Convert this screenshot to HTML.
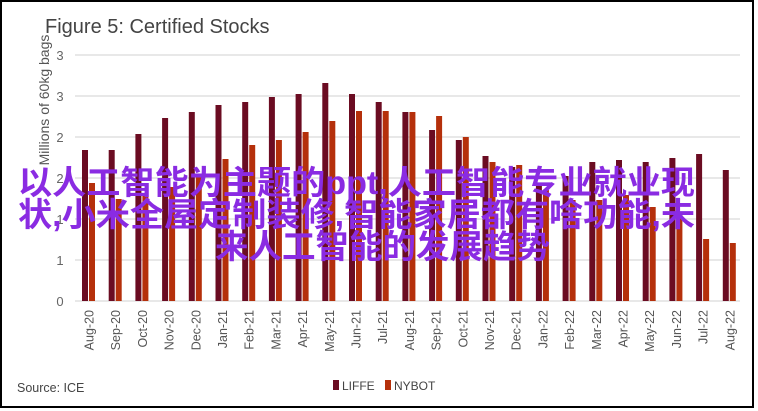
<!DOCTYPE html>
<html><head><meta charset="utf-8"><style>
body{margin:0;background:#fff;}
svg{display:block;font-family:"Liberation Sans","Noto Sans CJK SC",sans-serif;}
</style></head><body>
<svg width="758" height="411" viewBox="0 0 758 411" xmlns="http://www.w3.org/2000/svg">
<rect x="1" y="1" width="752" height="406" fill="#fff" stroke="#000" stroke-width="2"/>
<text x="45" y="33" font-size="20" fill="#444">Figure 5: Certified Stocks</text>
<text transform="translate(49,100) rotate(-90)" font-size="14" fill="#555" text-anchor="middle">Millions of 60kg bags</text>
<g stroke="#d9d9d9" stroke-width="1.3">
<line x1="75" y1="55" x2="740" y2="55"/><line x1="75" y1="96" x2="740" y2="96"/>
<line x1="75" y1="137" x2="740" y2="137"/><line x1="75" y1="178" x2="740" y2="178"/>
<line x1="75" y1="219" x2="740" y2="219"/><line x1="75" y1="260" x2="740" y2="260"/>
<line x1="75" y1="301" x2="740" y2="301"/>
</g>
<g font-size="13" fill="#666" text-anchor="middle">
<text x="60" y="60">3</text><text x="60" y="101">3</text><text x="60" y="142">2</text><text x="60" y="183">2</text><text x="60" y="224">1</text><text x="60" y="265">1</text><text x="60" y="306">0</text>
</g>
<g fill="#6b0c22">
<rect x="82.0" y="150" width="6" height="151"/>
<rect x="108.7" y="150" width="6" height="151"/>
<rect x="135.4" y="134" width="6" height="167"/>
<rect x="162.1" y="118" width="6" height="183"/>
<rect x="188.8" y="112" width="6" height="189"/>
<rect x="215.5" y="105" width="6" height="196"/>
<rect x="242.2" y="102" width="6" height="199"/>
<rect x="268.9" y="97" width="6" height="204"/>
<rect x="295.6" y="94" width="6" height="207"/>
<rect x="322.3" y="83" width="6" height="218"/>
<rect x="349.0" y="94" width="6" height="207"/>
<rect x="375.7" y="102" width="6" height="199"/>
<rect x="402.4" y="112" width="6" height="189"/>
<rect x="429.1" y="130" width="6" height="171"/>
<rect x="455.8" y="140" width="6" height="161"/>
<rect x="482.5" y="156" width="6" height="145"/>
<rect x="509.2" y="167" width="6" height="134"/>
<rect x="535.9" y="185" width="6" height="116"/>
<rect x="562.6" y="176" width="6" height="125"/>
<rect x="589.3" y="162" width="6" height="139"/>
<rect x="616.0" y="160" width="6" height="141"/>
<rect x="642.7" y="162" width="6" height="139"/>
<rect x="669.4" y="158" width="6" height="143"/>
<rect x="696.1" y="154" width="6" height="147"/>
<rect x="722.8" y="170" width="6" height="131"/>
</g>
<g fill="#b5300b">
<rect x="89.0" y="183" width="6" height="118"/>
<rect x="115.7" y="199" width="6" height="102"/>
<rect x="142.4" y="195" width="6" height="106"/>
<rect x="169.1" y="187" width="6" height="114"/>
<rect x="195.8" y="175" width="6" height="126"/>
<rect x="222.5" y="159" width="6" height="142"/>
<rect x="249.2" y="145" width="6" height="156"/>
<rect x="275.9" y="140" width="6" height="161"/>
<rect x="302.6" y="132" width="6" height="169"/>
<rect x="329.3" y="121" width="6" height="180"/>
<rect x="356.0" y="111" width="6" height="190"/>
<rect x="382.7" y="111" width="6" height="190"/>
<rect x="409.4" y="112" width="6" height="189"/>
<rect x="436.1" y="116" width="6" height="185"/>
<rect x="462.8" y="137" width="6" height="164"/>
<rect x="489.5" y="162" width="6" height="139"/>
<rect x="516.2" y="165" width="6" height="136"/>
<rect x="542.9" y="190" width="6" height="111"/>
<rect x="569.6" y="200" width="6" height="101"/>
<rect x="596.3" y="200" width="6" height="101"/>
<rect x="623.0" y="195" width="6" height="106"/>
<rect x="649.7" y="207" width="6" height="94"/>
<rect x="676.4" y="213" width="6" height="88"/>
<rect x="703.1" y="239" width="6" height="62"/>
<rect x="729.8" y="243" width="6" height="58"/>
</g>
<g font-size="12.5" fill="#555" text-anchor="end">
<text transform="translate(93.5,310) rotate(-90)">Aug-20</text>
<text transform="translate(120.2,310) rotate(-90)">Sep-20</text>
<text transform="translate(146.9,310) rotate(-90)">Oct-20</text>
<text transform="translate(173.6,310) rotate(-90)">Nov-20</text>
<text transform="translate(200.3,310) rotate(-90)">Dec-20</text>
<text transform="translate(227.0,310) rotate(-90)">Jan-21</text>
<text transform="translate(253.7,310) rotate(-90)">Feb-21</text>
<text transform="translate(280.4,310) rotate(-90)">Mar-21</text>
<text transform="translate(307.1,310) rotate(-90)">Apr-21</text>
<text transform="translate(333.8,310) rotate(-90)">May-21</text>
<text transform="translate(360.5,310) rotate(-90)">Jun-21</text>
<text transform="translate(387.2,310) rotate(-90)">Jul-21</text>
<text transform="translate(413.9,310) rotate(-90)">Aug-21</text>
<text transform="translate(440.6,310) rotate(-90)">Sep-21</text>
<text transform="translate(467.3,310) rotate(-90)">Oct-21</text>
<text transform="translate(494.0,310) rotate(-90)">Nov-21</text>
<text transform="translate(520.7,310) rotate(-90)">Dec-21</text>
<text transform="translate(547.4,310) rotate(-90)">Jan-22</text>
<text transform="translate(574.1,310) rotate(-90)">Feb-22</text>
<text transform="translate(600.8,310) rotate(-90)">Mar-22</text>
<text transform="translate(627.5,310) rotate(-90)">Apr-22</text>
<text transform="translate(654.2,310) rotate(-90)">May-22</text>
<text transform="translate(680.9,310) rotate(-90)">Jun-22</text>
<text transform="translate(707.6,310) rotate(-90)">Jul-22</text>
<text transform="translate(734.3,310) rotate(-90)">Aug-22</text>
</g>
<text x="17" y="392" font-size="12.5" fill="#444">Source: ICE</text>
<rect x="333" y="380" width="6" height="10" fill="#6b0c22"/>
<text x="342" y="390" font-size="12" fill="#444">LIFFE</text>
<rect x="385" y="380" width="6" height="10" fill="#b5300b"/>
<text x="394" y="390" font-size="12" fill="#444">NYBOT</text>
<g font-size="33" font-weight="bold" fill="#8a2be2">
<text x="18" y="194" textLength="677" lengthAdjust="spacingAndGlyphs">以人工智能为主题的ppt,人工智能专业就业现</text>
<text x="18" y="226" textLength="677" lengthAdjust="spacingAndGlyphs">状,小米全屋定制装修,智能家居都有啥功能,未</text>
<text x="215" y="258" textLength="335" lengthAdjust="spacingAndGlyphs">来人工智能的发展趋势</text>
</g>
</svg>
</body></html>
